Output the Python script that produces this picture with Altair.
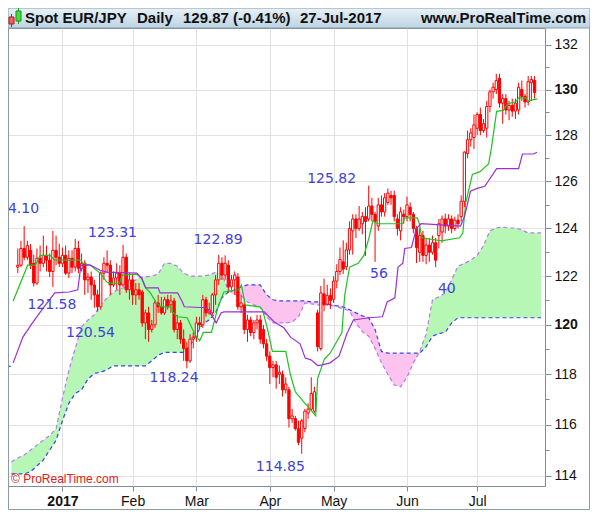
import altair as alt
import pandas as pd

# ---------------- data ----------------
# trading-day index: 0 = 2 Jan 2017
first_day = -14
opens = [122.38, 122.46, 123.16, 122.79, 123.08, 122.54, 121.72, 122.75, 122.54, 122.87,
         122.67, 122.20, 123.08, 122.79,
         122.54, 122.87, 122.13, 122.75, 122.38, 123.16, 122.33, 122.54, 121.85, 121.97,
         121.64, 121.23, 120.74, 122.13, 122.54, 122.46, 121.64, 121.93, 122.13, 121.64,
         122.79, 121.44,
         121.85, 121.23, 121.44, 121.35, 120.08, 120.49, 119.81, 120.00, 120.90, 120.74,
         120.49, 121.03, 120.82, 120.98, 119.81, 120.08, 119.42, 119.04, 118.54, 119.42,
         119.50, 120.08, 120.00, 121.03, 120.49, 120.49, 121.23, 121.85, 122.54, 122.05,
         122.46, 121.56, 121.85, 121.97, 120.74, 120.82, 119.81, 120.20, 119.69, 120.08,
         120.20, 119.81, 119.23,
         118.73, 118.27, 118.38, 118.00, 118.00, 117.38, 117.38, 116.23, 116.23, 115.84,
         115.46, 115.84, 116.46, 116.61, 116.53, 120.49, 119.04, 121.27, 120.85, 121.20,
         121.05, 121.80, 122.20, 122.60, 122.40, 123.10, 123.90, 124.40, 124.00, 124.20,
         124.50, 124.40, 124.95, 124.60, 124.10, 125.00, 124.70, 125.10, 125.40, 125.40,
         124.40, 123.90, 124.60,
         124.50, 124.90, 124.60, 124.00, 123.00, 123.70, 122.87, 123.30, 123.00, 123.40,
         123.70, 123.85, 124.40, 124.10, 124.40, 124.00, 124.35, 124.50, 125.15, 127.20,
         127.80, 127.90,
         128.30, 128.90, 128.20, 128.30, 129.25, 129.90, 130.00, 130.50, 129.40, 129.60,
         129.10, 129.30, 129.05, 129.10, 130.00, 129.70, 129.45, 130.30, 130.40]
highs = [123.16, 123.48, 124.10, 123.48, 123.35, 122.90, 123.16, 123.28, 123.70, 123.28,
         122.95, 123.90, 123.70, 123.36,
         123.20, 123.28, 123.08, 123.08, 123.56, 123.48, 122.95, 122.67, 122.13, 122.20,
         121.85, 121.44, 122.20, 122.79, 123.08, 122.67, 122.20, 122.54, 122.46, 123.31,
         122.95, 122.13,
         122.05, 121.72, 121.72, 121.44, 120.62, 120.74, 120.20, 121.03, 121.23, 121.15,
         121.15, 121.23, 121.23, 121.11, 120.41, 120.20, 119.81, 119.31, 119.62, 119.69,
         120.33, 120.33, 121.23, 121.15, 120.90, 121.31, 122.05, 122.89, 122.79, 122.87,
         122.67, 122.05, 122.20, 122.13, 121.23, 121.03, 120.41, 120.33, 120.20, 120.41,
         120.41, 120.00, 119.42,
         118.92, 118.54, 118.54, 118.35, 118.15, 117.88, 117.50, 116.61, 116.34, 116.15,
         116.23, 116.61, 116.84, 117.88, 117.50, 120.62, 121.60, 121.90, 121.65, 121.50,
         122.00, 122.50, 123.20, 123.50, 123.40, 124.30, 124.60, 124.60, 124.95, 124.70,
         124.90, 125.82, 125.30, 124.70, 125.30, 125.40, 125.50, 125.70, 125.60, 125.60,
         124.60, 124.90, 124.80,
         125.35, 125.10, 124.70, 124.10, 124.00, 123.90, 123.60, 123.60, 123.70, 123.60,
         124.40, 124.55, 124.63, 124.60, 124.55, 124.50, 124.60, 125.40, 127.30, 128.20,
         128.30, 128.90,
         129.00, 129.20, 128.70, 129.50, 130.00, 130.30, 130.70, 130.70, 129.80, 129.80,
         129.50, 129.60, 129.60, 130.30, 130.40, 129.80, 130.60, 130.60, 130.60]
lows = [122.13, 122.38, 122.67, 122.67, 122.30, 121.58, 121.64, 122.20, 122.38, 122.20,
        121.97, 121.56, 122.46, 122.38,
        122.38, 122.05, 121.93, 122.13, 122.20, 122.13, 122.20, 121.23, 121.31, 121.03,
        120.70, 120.54, 120.62, 121.85, 122.13, 121.23, 121.56, 121.44, 121.23, 121.56,
        121.31, 121.03,
        120.82, 120.82, 121.03, 119.92, 119.42, 119.31, 119.69, 119.88, 120.49, 120.41,
        120.41, 120.62, 120.49, 119.69, 119.42, 119.23, 118.54, 118.24, 118.46, 119.04,
        119.31, 119.81, 119.88, 120.33, 120.41, 120.41, 120.82, 121.64, 121.85, 121.85,
        121.31, 121.44, 121.23, 120.62, 120.49, 119.62, 119.31, 119.54, 119.42, 119.81,
        119.23, 119.04, 118.54,
        117.61, 117.88, 117.42, 117.61, 117.11, 117.23, 115.88, 116.07, 115.76, 115.19,
        114.85, 115.69, 116.23, 116.53, 116.46, 118.92, 118.95, 120.55, 120.80, 120.65,
        120.90, 121.50, 122.05, 122.10, 122.25, 122.90, 122.90, 123.60, 123.90, 123.75,
        122.85, 124.30, 124.30, 122.60, 123.90, 124.50, 124.50, 125.00, 125.00, 124.30,
        123.70, 123.50, 124.20,
        124.30, 124.30, 123.80, 122.55, 122.60, 122.60, 122.50, 122.60, 122.90, 122.38,
        123.16, 123.40, 123.80, 123.90, 123.80, 123.90, 124.00, 124.30, 124.90, 127.00,
        127.50, 127.40,
        128.00, 128.00, 128.10, 127.90, 129.00, 129.60, 129.80, 129.20, 128.50, 128.90,
        128.65, 128.80, 128.70, 128.90, 129.50, 129.20, 129.30, 129.50, 129.60]
closes = [122.46, 123.16, 122.79, 123.28, 122.46, 121.72, 122.75, 122.54, 122.87, 122.67,
          122.20, 123.08, 122.79, 122.54,
          122.87, 122.13, 122.75, 122.38, 123.16, 122.33, 122.54, 121.85, 121.97, 121.64,
          121.23, 120.74, 122.13, 122.54, 122.46, 121.64, 121.93, 122.13, 121.64, 122.79,
          121.44, 121.85,
          121.23, 121.44, 121.23, 120.08, 120.49, 119.81, 120.00, 120.90, 120.74, 120.49,
          121.03, 120.74, 120.98, 119.81, 120.08, 119.42, 119.04, 118.54, 119.42, 119.50,
          120.08, 120.00, 121.03, 120.49, 120.62, 121.23, 121.85, 122.54, 122.05, 122.54,
          121.56, 121.85, 122.05, 120.74, 120.90, 119.81, 120.20, 119.69, 120.08, 120.20,
          119.42, 119.23, 118.73,
          118.27, 118.38, 117.88, 118.08, 117.38, 117.61, 116.23, 116.34, 115.84, 115.30,
          116.15, 116.53, 116.61, 117.23, 117.30, 119.11, 121.31, 120.82, 121.20, 121.00,
          121.80, 122.20, 122.70, 122.30, 123.10, 124.00, 124.40, 124.00, 124.40, 124.50,
          124.30, 124.95, 124.60, 124.30, 125.00, 124.70, 125.30, 125.50, 125.30, 124.50,
          124.00, 124.70, 124.50,
          125.00, 124.60, 124.00, 123.20, 123.70, 122.87, 123.30, 123.00, 123.40, 122.67,
          124.20, 124.40, 124.10, 124.40, 124.00, 124.35, 124.20, 125.15, 127.26, 127.80,
          128.10, 128.45,
          128.90, 128.20, 128.50, 129.25, 129.90, 130.10, 130.40, 129.40, 129.60, 129.10,
          129.30, 129.05, 129.40, 130.10, 129.70, 129.45, 130.35, 130.45, 129.87]

month_days = [0, 22, 42, 65, 85, 108, 130]
month_labels = ["2017", "Feb", "Mar", "Apr", "May", "Jun", "Jul"]
price_ticks = list(range(114, 133))

# Ichimoku cloud, read every second trading day from -16 to 150
cloud_days = list(range(-16, 151, 2))
senkou_a = [114.53, 114.69, 114.80, 115.00, 115.19, 115.38, 115.57, 115.84, 117.04, 118.15,
            119.04, 119.92, 120.20, 120.41, 120.82, 121.11, 121.35, 121.48, 121.56, 121.76,
            121.93, 121.97, 122.01, 122.09, 122.54, 122.54, 122.42, 122.13, 122.01, 122.01,
            122.01, 122.05, 122.17, 122.05, 121.44, 121.27, 121.19, 120.94, 120.82, 120.74,
            120.33, 120.08, 120.08, 120.08, 120.12, 120.33, 120.90, 120.86, 120.82, 120.82,
            120.82, 120.74, 120.66, 120.57, 120.08, 119.73, 119.54, 119.04, 118.46, 118.00,
            117.57, 117.50, 117.88, 118.46, 118.92, 119.62, 121.03, 121.15, 121.31, 121.85,
            122.42, 122.54, 122.67, 122.87, 123.28, 123.90, 124.02, 124.06, 124.02, 124.02,
            123.94, 123.81, 123.81, 123.81]
senkou_b = [114.07, 114.07, 114.07, 114.15, 114.38, 114.61, 115.00, 115.38, 116.15, 116.84,
            117.23, 117.38, 117.81, 118.04, 118.08, 118.19, 118.34, 118.34, 118.34, 118.34,
            118.34, 118.34, 118.54, 118.77, 118.88, 118.88, 118.88, 118.88, 119.15, 119.62,
            120.04, 120.20, 120.49, 121.11, 121.35, 121.44, 121.56, 121.64, 121.64, 121.64,
            121.23, 121.03, 120.98, 120.98, 120.98, 120.98, 120.98, 120.94, 120.94, 120.90,
            120.82, 120.78, 120.74, 120.62, 120.49, 120.37, 120.29, 119.81, 118.92, 118.85,
            118.85, 118.85, 118.85, 118.85, 118.85, 119.11, 119.54, 119.65, 119.69, 120.08,
            120.29, 120.29, 120.29, 120.29, 120.29, 120.29, 120.29, 120.29, 120.29, 120.29,
            120.29, 120.29, 120.29, 120.29]

tenkan_days = [-15.45, -10.9, -8.5, -7.0, -3.9, -2.4, 5.8, 6.4, 8.8, 11.8, 13.9, 14.8, 17.9,
               18.8, 23.3, 24.8, 26.1, 27.6, 29.4, 30.9, 33.9, 34.5, 36.1, 39.1, 41.5, 43.0,
               44.2, 46.7, 48.8, 50.6, 55.2, 56.1, 57.3, 61.8, 62.7, 64.2, 65.8, 70.0, 71.5,
               73.0, 75.5, 77.6, 79.4, 80.0, 82.1, 83.9, 87.6, 88.2, 88.5, 90.0, 92.7, 94.5,
               96.1, 97.3, 98.8, 106.7, 107.3, 111.2, 111.8, 112.7, 118.8, 124.5, 125.5,
               126.4, 128.5, 130.9, 133.6, 134.5, 136.1, 138.2, 139.7, 142.1, 143.0, 145.2,
               146.1, 148.8]
tenkan_vals = [120.98, 122.46, 122.46, 122.87, 122.87, 122.67, 122.67, 122.54, 122.46, 122.13,
               121.76, 121.72, 121.72, 122.05, 122.09, 121.93, 121.52, 121.31, 120.90, 120.74,
               120.74, 120.53, 120.33, 120.29, 119.62, 119.35, 119.69, 119.69, 120.74, 121.35,
               121.44, 121.64, 120.82, 120.74, 120.62, 119.88, 118.92, 118.92, 117.96, 117.30,
               116.92, 116.61, 116.34, 117.84, 118.61, 118.85, 119.69, 120.74, 121.23, 122.38,
               122.54, 122.87, 123.61, 124.32, 124.20, 124.20, 124.45, 124.45, 124.24, 123.61,
               123.48, 123.61, 123.81, 125.07, 126.30, 126.42, 126.76, 127.47, 129.04, 129.08,
               129.38, 129.46, 129.63, 129.63, 129.50, 129.59]

kijun_days = [-15.45, -12.4, -9.4, -6.4, -2.4, 2.1, 4.8, 5.8, 8.8, 11.8, 13.9, 23.3, 24.8,
              26.1, 30.0, 30.6, 36.1, 37.6, 38.2, 45.2, 46.7, 48.2, 49.7, 50.6, 63.3, 64.2,
              66.4, 69.4, 71.5, 74.5, 76.1, 77.9, 80.0, 81.5, 83.9, 86.7, 89.1, 91.2, 96.1,
              100.3, 101.8, 104.2, 105.2, 106.7, 107.3, 109.4, 110.9, 112.4, 124.8, 126.1,
              127.9, 130.0, 132.4, 136.1, 143.0, 144.2, 147.6, 148.8]
kijun_vals = [118.46, 119.50, 120.08, 120.62, 121.31, 121.35, 121.44, 122.46, 122.46, 122.25,
              122.17, 122.13, 121.93, 121.52, 121.52, 121.31, 121.31, 120.94, 120.74, 120.70,
              120.41, 120.08, 120.49, 120.53, 120.53, 120.41, 120.12, 119.88, 119.50, 119.23,
              118.65, 118.58, 118.35, 118.38, 118.46, 118.73, 119.62, 120.20, 120.29, 120.33,
              120.94, 121.11, 122.38, 122.54, 123.16, 123.20, 123.98, 124.20, 124.10, 124.53,
              125.58, 125.70, 125.79, 126.55, 126.55, 127.18, 127.18, 127.26]

label_texts = ["124.10", "123.31", "121.58", "120.54", "122.89", "118.24", "114.85",
               "125.82", "56", "40"]
label_days = [-15.0, 15.7, -3.3, 8.8, 48.8, 35.0, 68.3, 84.4, 99.2, 120.5]
label_prices = [124.82, 123.81, 120.82, 119.65, 123.50, 117.84, 114.34, 126.10, 122.10, 121.48]
edge_text = ["1"]
edge_price = [118.46]

# ---------------- frames ----------------
candles = pd.DataFrame({
    "day": list(range(first_day, first_day + len(closes))),
    "open": opens, "high": highs, "low": lows, "close": closes,
})
cloud = pd.DataFrame({"day": cloud_days, "a": senkou_a, "b": senkou_b})
tenkan = pd.DataFrame({"day": tenkan_days, "v": tenkan_vals})
kijun = pd.DataFrame({"day": kijun_days, "v": kijun_vals})
labels = pd.DataFrame({"day": label_days, "p": label_prices, "t": label_texts})
edge = pd.DataFrame({"p": edge_price, "t": edge_text})
one = pd.DataFrame({"k": [0]})

W, H = 537, 458
RED = "#ff0000"
GRID = "#e2e2e2"
FRAME = "#7d8e99"

xs = alt.Scale(domain=[-15.5, 149.7], nice=False, zero=False)
ys = alt.Scale(type="log", domain=[113.6, 132.75], nice=False, zero=False)

label_expr = " : ".join(
    f"datum.value == {d} ? '{t}'" for d, t in zip(month_days, month_labels)
) + " : ''"

x_axis = alt.Axis(
    values=month_days, labelExpr=label_expr, title=None, grid=True,
    gridColor=GRID, domain=False, tickColor=FRAME, tickSize=5,
    labelFont="Liberation Sans", labelFontSize=14, labelColor="#111111",
    labelPadding=3, labelFlush=False, labelOverlap=False,
    labelFontWeight={"condition": {"test": "datum.value == 0", "value": "bold"},
                     "value": "normal"},
)
y_axis = alt.Axis(
    orient="right", values=price_ticks, title=None, grid=True,
    labelExpr="datum.value % 2 == 0 ? datum.value : ''",
    gridColor=GRID,
    gridOpacity={"condition": {"test": "datum.value % 2 == 0", "value": 1}, "value": 0},
    tickSize={"condition": {"test": "datum.value % 2 == 0", "value": 6}, "value": 4},
    domain=False, tickColor=FRAME, labelOverlap=False, labelFlush=False,
    labelFont="Liberation Sans", labelFontSize=14, labelColor="#111111", labelPadding=3,
    labelFontWeight={"condition": {"test": "datum.value == 120 || datum.value == 130",
                                   "value": "bold"}, "value": "normal"},
)

X = alt.X("day:Q", scale=xs, axis=x_axis)


def Y(field):
    return alt.Y(field, scale=ys, axis=y_axis)


base_cloud = alt.Chart(cloud).transform_calculate(lo="min(datum.a, datum.b)")

green_area = base_cloud.mark_area(color="#b6f7b6", opacity=1, clip=True).encode(
    x=X, y=Y("a:Q"), y2="lo:Q")
pink_area = base_cloud.mark_area(color="#fbc3ee", opacity=1, clip=True).encode(
    x=X, y=Y("b:Q"), y2="lo:Q")
line_a = alt.Chart(cloud).mark_line(color="#bb77ee", strokeWidth=1.2,
                                    strokeDash=[4, 3], clip=True).encode(x=X, y=Y("a:Q"))
line_b = alt.Chart(cloud).mark_line(color="#3344ee", strokeWidth=1.2,
                                    strokeDash=[4, 3], clip=True).encode(x=X, y=Y("b:Q"))

wicks = alt.Chart(candles).mark_rule(color=RED, strokeWidth=1, clip=True).encode(
    x=X, y=Y("low:Q"), y2="high:Q")
bodies = alt.Chart(candles).mark_bar(width=2.3, stroke=RED, strokeWidth=1, clip=True).encode(
    x=X, y=Y("open:Q"), y2="close:Q",
    fill=alt.condition("datum.close > datum.open", alt.value("white"), alt.value(RED)))

tenkan_line = alt.Chart(tenkan).mark_line(color="#1fc21f", strokeWidth=1.2, clip=True).encode(
    x=X, y=Y("v:Q"))
kijun_line = alt.Chart(kijun).mark_line(color="#9b2fd4", strokeWidth=1.2, clip=True).encode(
    x=X, y=Y("v:Q"))

label_marks = alt.Chart(labels).mark_text(
    font="DejaVu Sans", fontSize=14, color="#4242d6", align="center",
    baseline="middle", clip=True).encode(x=X, y=Y("p:Q"), text="t:N")

edge_marks = alt.Chart(edge).mark_text(
    font="DejaVu Sans", fontSize=14, color="#4242d6", align="right",
    baseline="middle").encode(x=alt.value(4), y=Y("p:Q"), text="t:N")

# header band and decorations
grad = alt.LinearGradient(gradient="linear", x1=0, y1=0, x2=0, y2=1,
                          stops=[alt.GradientStop(color="#e8f1f7", offset=0),
                                 alt.GradientStop(color="#bcd3e2", offset=1)])
header = alt.Chart(one).mark_rect(fill=grad, stroke="#8a9ba6", strokeWidth=1).encode(
    x=alt.value(0), x2=alt.value(582), y=alt.value(-20), y2=alt.value(0))
icon_r_w = alt.Chart(one).mark_rule(color="#c02020").encode(
    x=alt.value(3.5), y=alt.value(-14), y2=alt.value(-1))
icon_r = alt.Chart(one).mark_rect(fill="#f06060", stroke="#b01818").encode(
    x=alt.value(1), x2=alt.value(6), y=alt.value(-11), y2=alt.value(-4))
icon_g_w = alt.Chart(one).mark_rule(color="#1a9a1a").encode(
    x=alt.value(10.5), y=alt.value(-20), y2=alt.value(-4))
icon_g = alt.Chart(one).mark_rect(fill="#40e040", stroke="#109010").encode(
    x=alt.value(8), x2=alt.value(13), y=alt.value(-17), y2=alt.value(-7))


def htext(txt, xpos, align="left"):
    return alt.Chart(one).mark_text(
        text=txt, font="Liberation Sans", fontSize=15, fontWeight="bold",
        color="#111111", align=align, baseline="alphabetic").encode(
        x=alt.value(xpos), y=alt.value(-5))


head_texts = (htext("Spot EUR/JPY", 17) + htext("Daily", 129) +
              htext("129.87 (-0.41%)", 175) + htext("27-Jul-2017", 292) +
              htext("www.ProRealTime.com", 578, "right"))

copyright = alt.Chart(one).mark_text(
    text="\u00a9 ProRealTime.com", font="Liberation Sans", fontSize=12,
    color="#e02020", align="left", baseline="alphabetic").encode(
    x=alt.value(3), y=alt.value(H - 3))

frame = alt.Chart(one).mark_rect(fill=None, stroke="#8a9ba6", strokeWidth=1).encode(
    x=alt.value(0.5), x2=alt.value(581.5), y=alt.value(-20), y2=alt.value(H + 23.5))

chart = alt.layer(
    green_area, pink_area, line_a, line_b, wicks, bodies, tenkan_line, kijun_line,
    label_marks, edge_marks, copyright, frame, header, icon_r_w, icon_r, icon_g_w, icon_g,
    head_texts,
).properties(
    width=W, height=H,
    autosize=alt.AutoSizeParams(type="none"),
    padding={"left": 0, "top": 20, "right": 45, "bottom": 24},
    background="white",
).configure_view(stroke=FRAME, strokeWidth=1)

chart.save("out.html", embed_options={"renderer": "svg", "actions": False})
